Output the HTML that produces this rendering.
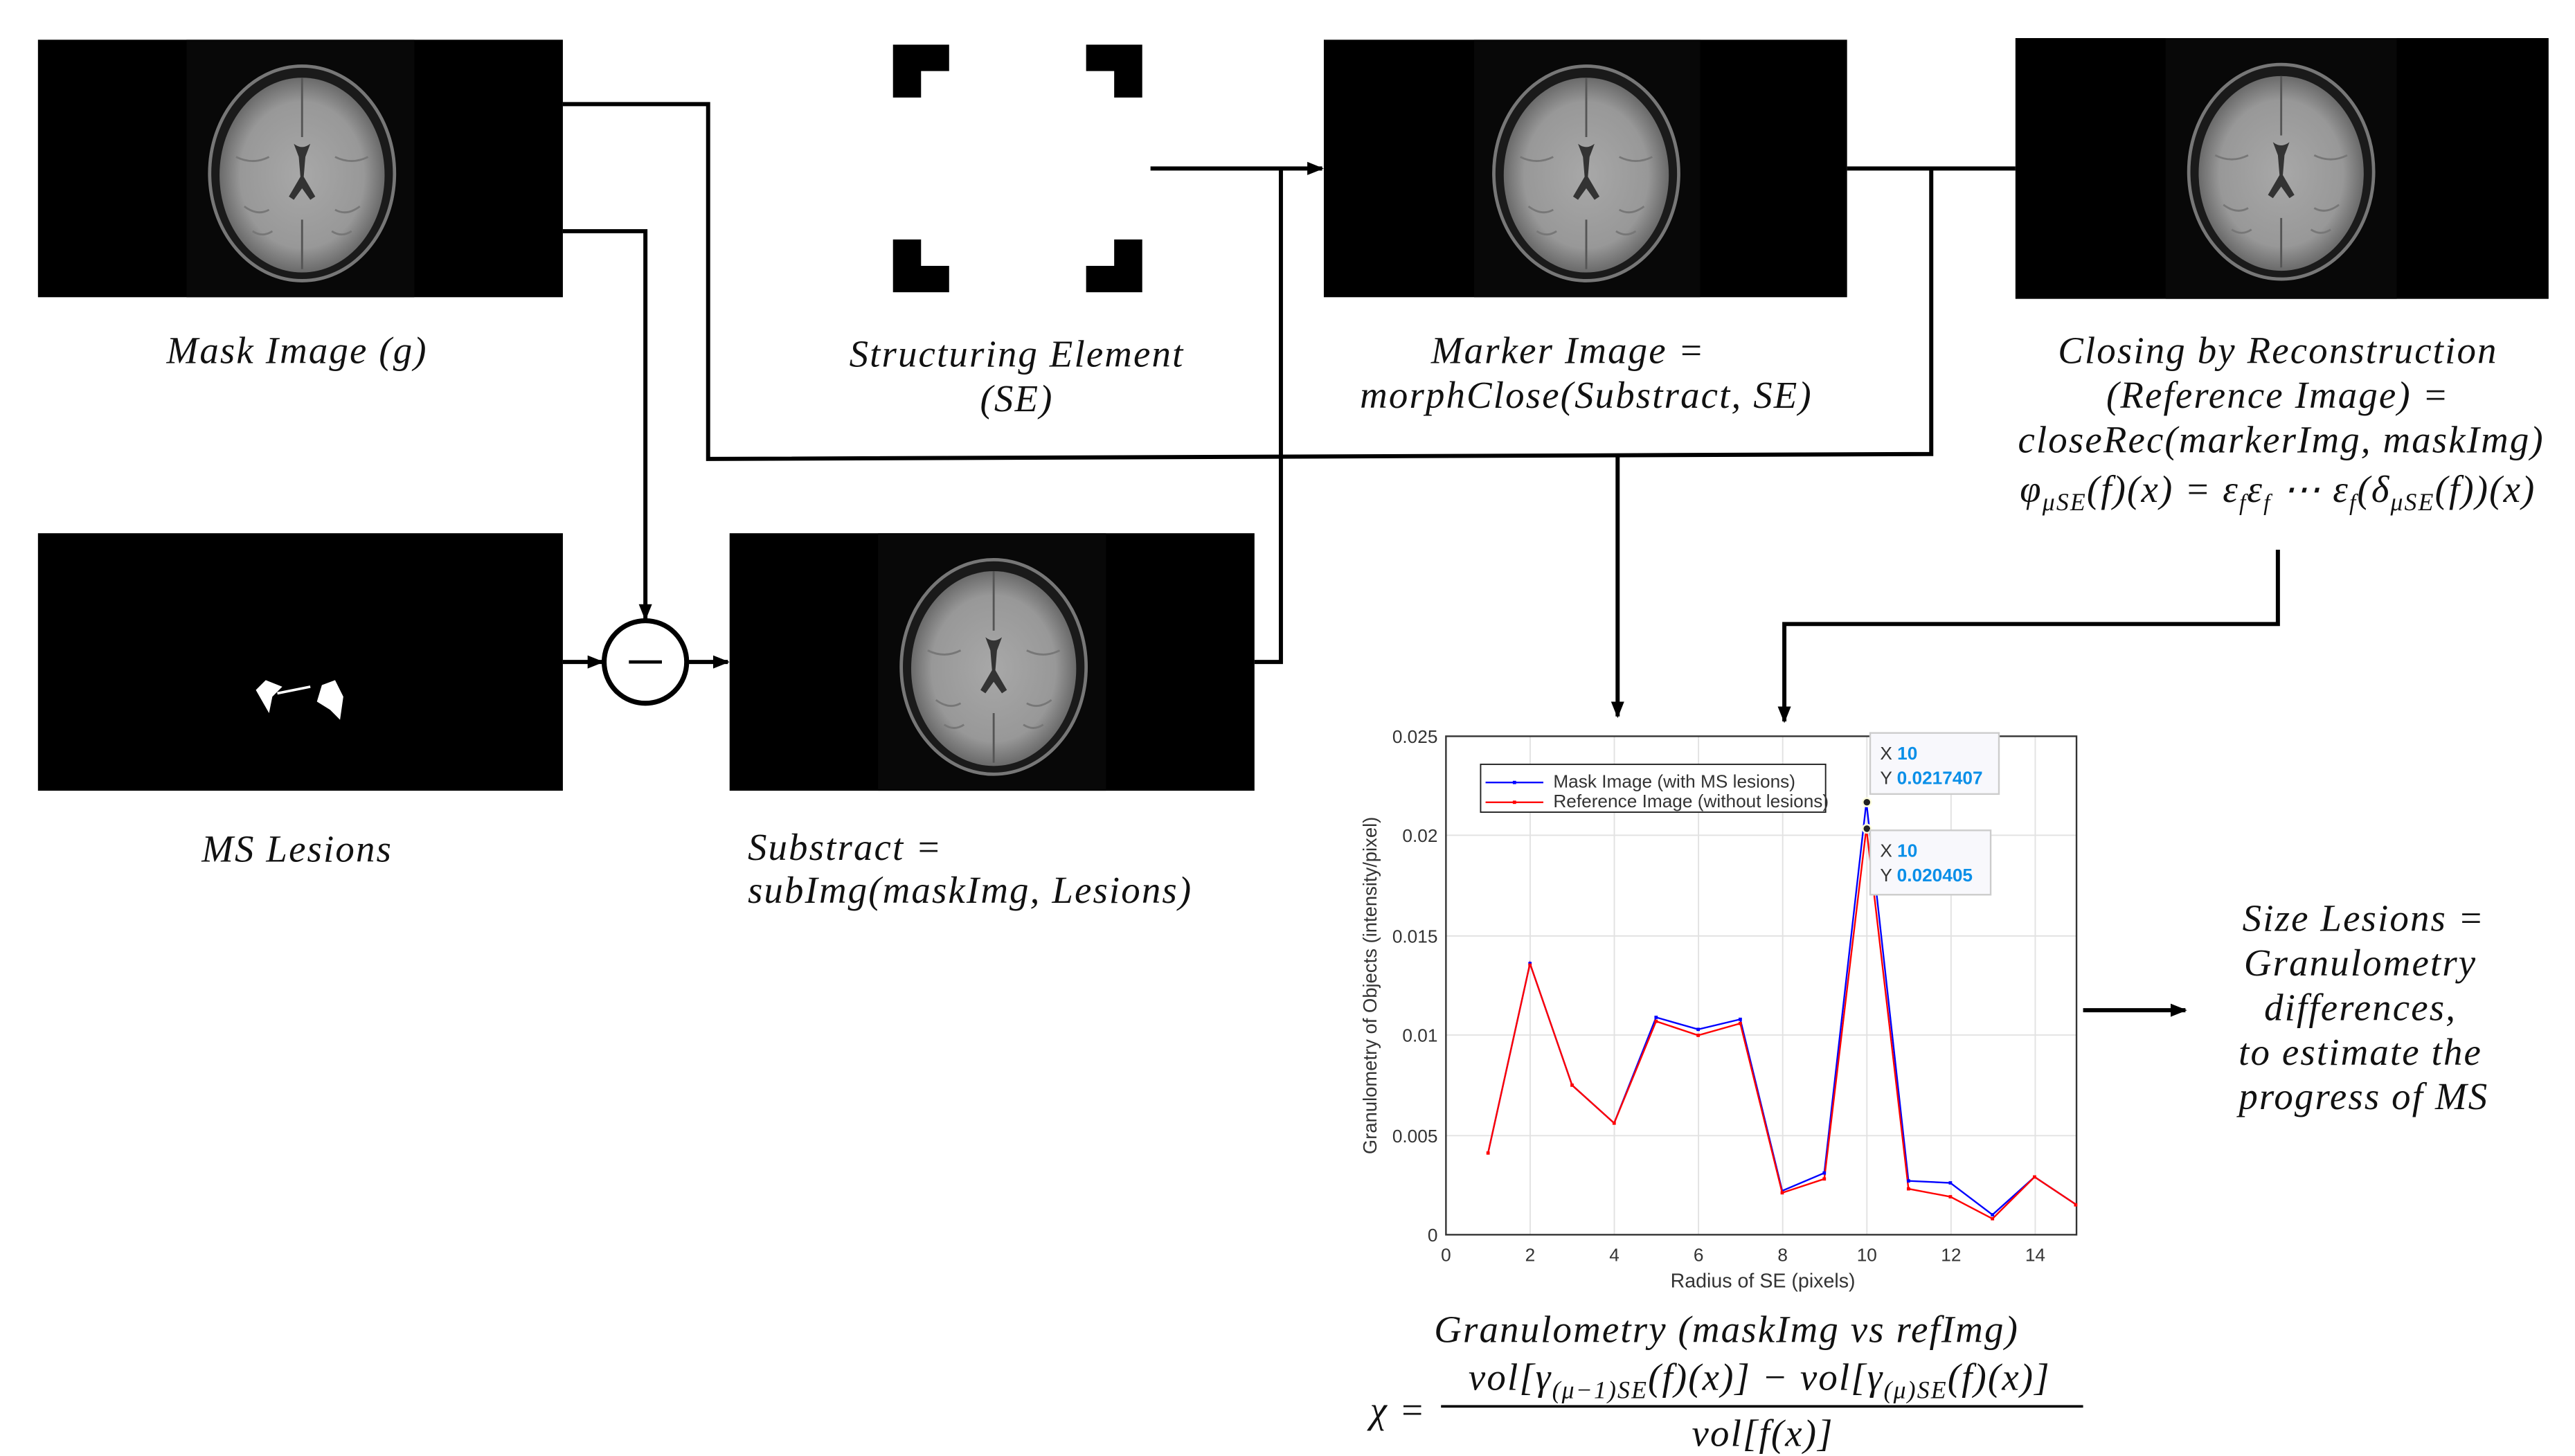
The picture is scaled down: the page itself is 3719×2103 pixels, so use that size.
<!DOCTYPE html>
<html><head><meta charset="utf-8"><style>
html,body{margin:0;padding:0;background:#fff;}
svg{display:block;}
.t{font-family:"Liberation Serif",serif;font-style:italic;font-size:23px;letter-spacing:0.9px;fill:#111;}
.a{font-family:"Liberation Sans",sans-serif;font-size:11px;fill:#333;}
</style></head><body>
<svg width="3719" height="2103" viewBox="0 0 1560 882" xmlns="http://www.w3.org/2000/svg">
<defs>
<marker id="ar" markerWidth="10" markerHeight="10" refX="9" refY="5" orient="auto" markerUnits="userSpaceOnUse">
<path d="M0,1 L10,5 L0,9 Z" fill="#000"/></marker>
<radialGradient id="bg" cx="50%" cy="50%" r="50%">
<stop offset="0" stop-color="#a8a8a8"/><stop offset="0.75" stop-color="#989898"/><stop offset="1" stop-color="#6a6a6a"/></radialGradient>
<g id="brain">
<ellipse cx="0" cy="0" rx="56" ry="65" fill="#1a1a1a" stroke="#777" stroke-width="2"/>
<ellipse cx="0" cy="1" rx="50" ry="59" fill="url(#bg)"/>
<path d="M-5,-18 q5,4 10,0 l-3,8 l-1,12 l7,12 l-3,2 l-5,-7 l-5,7 l-3,-2 l7,-12 l-1,-12 z" fill="#333"/>
<path d="M0,-58 L0,-22 M0,28 L0,58" stroke="#555" stroke-width="1.2"/>
<path d="M-40,-10 q10,5 20,0 M40,-10 q-10,5 -20,0 M-35,20 q8,6 15,2 M35,20 q-8,6 -15,2 M-30,35 q6,4 12,0 M30,35 q-6,4 -12,0" stroke="#777" stroke-width="1.2" fill="none"/>
</g>
</defs>
<rect width="1560" height="882" fill="#fff"/>

<rect x="23" y="24" width="318" height="156" fill="#000"/>
<rect x="113" y="24" width="138" height="156" fill="#080808"/>
<use href="#brain" x="183" y="105"/>
<rect x="802" y="24" width="317" height="156" fill="#000"/>
<rect x="893" y="24" width="137" height="156" fill="#080808"/>
<use href="#brain" x="961" y="105"/>
<rect x="1221" y="23" width="323" height="158" fill="#000"/>
<rect x="1312" y="23" width="140" height="158" fill="#080808"/>
<use href="#brain" x="1382" y="104"/>
<rect x="442" y="323" width="318" height="156" fill="#000"/>
<rect x="532" y="323" width="138" height="156" fill="#080808"/>
<use href="#brain" x="602" y="404"/>
<rect x="23" y="323" width="318" height="156" fill="#000"/>
<path d="M155,418 l6,-6 l10,4 l-6,6 l-2,10 z M195,415 l8,-3 l5,10 l-2,14 l-6,-6 l-8,-5 z" fill="#fff"/>
<path d="M168,420 l20,-4" stroke="#fff" stroke-width="1.5"/>

<path d="M541,27 h34 v16 h-17 v16 h-17 z" fill="#000"/>
<path d="M658,27 h34 v32 h-17 v-16 h-17 z" fill="#000"/>
<path d="M541,145 h17 v16 h17 v16 h-34 z" fill="#000"/>
<path d="M675,145 h17 v32 h-34 v-16 h17 z" fill="#000"/>

<g stroke="#000" stroke-width="2.5" fill="none">
<polyline points="341,63 429,63 429,278 1170,275 1170,102"/>
<line x1="1119" y1="102" x2="1221" y2="102"/>
<polyline points="341,140 391,140 391,375" marker-end="url(#ar)"/>
<line x1="341" y1="401" x2="365" y2="401" marker-end="url(#ar)"/>
<line x1="416" y1="401" x2="441" y2="401" marker-end="url(#ar)"/>
<polyline points="760,401 776,401 776,102"/>
<line x1="697" y1="102" x2="801" y2="102" marker-end="url(#ar)"/>
<polyline points="980,277 980,434" marker-end="url(#ar)"/>
<polyline points="1380,333 1380,378 1081,378 1081,437" marker-end="url(#ar)"/>
<line x1="1262" y1="612" x2="1324" y2="612" marker-end="url(#ar)"/>
<circle cx="391" cy="401" r="25" stroke-width="3"/>
<line x1="381" y1="401" x2="401" y2="401" stroke-width="2"/>
</g>

<g class="t" text-anchor="middle">
<text x="180" y="220">Mask Image (g)</text>
<text x="616" y="222">Structuring Element</text>
<text x="616" y="249">(SE)</text>
<text x="950" y="220">Marker Image =</text>
<text x="961" y="247">morphClose(Substract, SE)</text>
<text x="1380" y="220">Closing by Reconstruction</text>
<text x="1380" y="247">(Reference Image) =</text>
<text x="1382" y="274">closeRec(markerImg, maskImg)</text>
<text x="1380" y="304">φ<tspan font-size="15" dy="5">μSE</tspan><tspan dy="-5">(f)(x) = ε</tspan><tspan font-size="14" dy="5">f</tspan><tspan dy="-5">ε</tspan><tspan font-size="14" dy="5">f</tspan><tspan dy="-5"> ⋯ ε</tspan><tspan font-size="14" dy="5">f</tspan><tspan dy="-5">(δ</tspan><tspan font-size="15" dy="5">μSE</tspan><tspan dy="-5">(f))(x)</tspan></text>
<text x="180" y="522">MS Lesions</text>
<text x="1432" y="564">Size Lesions =</text>
<text x="1430" y="591">Granulometry</text>
<text x="1430" y="618">differences,</text>
<text x="1430" y="645">to estimate the</text>
<text x="1432" y="672">progress of MS</text>
<text x="1046" y="813">Granulometry (maskImg vs refImg)</text>
<text x="1066" y="842">vol[γ<tspan font-size="15" dy="5">(μ−1)SE</tspan><tspan dy="-5">(f)(x)] − vol[γ</tspan><tspan font-size="15" dy="5">(μ)SE</tspan><tspan dy="-5">(f)(x)]</tspan></text>
<text x="1068" y="876">vol[f(x)]</text>
</g>
<g class="t">
<text x="453" y="521">Substract =</text>
<text x="453" y="547">subImg(maskImg, Lesions)</text>
<text x="830" y="862">χ =</text>
</g>
<line x1="873" y1="852" x2="1262" y2="852" stroke="#000" stroke-width="1.5"/>

<g stroke="#e2e2e2" stroke-width="0.8">
<line x1="927" y1="446" x2="927" y2="748"/><line x1="978" y1="446" x2="978" y2="748"/>
<line x1="1029" y1="446" x2="1029" y2="748"/><line x1="1080" y1="446" x2="1080" y2="748"/>
<line x1="1131" y1="446" x2="1131" y2="748"/><line x1="1182" y1="446" x2="1182" y2="748"/>
<line x1="1233" y1="446" x2="1233" y2="748"/>
<line x1="876" y1="688" x2="1258" y2="688"/><line x1="876" y1="627" x2="1258" y2="627"/>
<line x1="876" y1="567" x2="1258" y2="567"/><line x1="876" y1="506" x2="1258" y2="506"/>
</g>
<rect x="876" y="446" width="382" height="302" fill="none" stroke="#333" stroke-width="1"/>
<polyline fill="none" stroke="#00f" stroke-width="1" points="901.5,698.5 926.9,583.7 952.4,657.4 977.9,680.4 1003.3,616.3 1028.8,623.6 1054.3,617.5 1079.7,721.4 1105.2,710.6 1130.7,485.9 1156.2,715.4 1181.6,716.6 1207.1,735.9 1232.6,713 1258,729.9"/>
<polyline fill="none" stroke="#f00" stroke-width="1" points="901.5,698.5 926.9,583.7 952.4,657.4 977.9,680.4 1003.3,618.7 1028.8,627.2 1054.3,620 1079.7,722.6 1105.2,714.2 1130.7,501.6 1156.2,720.2 1181.6,725 1207.1,738.3 1232.6,713 1258,729.9"/>
<g fill="#00f"><rect x="925.9" y="582.7" width="2" height="2"/><rect x="1002.3" y="615.3" width="2" height="2"/><rect x="1027.8" y="622.6" width="2" height="2"/><rect x="1053.3" y="616.5" width="2" height="2"/><rect x="1104.2" y="709.6" width="2" height="2"/><rect x="1155.2" y="714.4" width="2" height="2"/><rect x="1180.6" y="715.6" width="2" height="2"/><rect x="1206.1" y="734.9" width="2" height="2"/></g>
<g fill="#f00"><rect x="900.5" y="697.5" width="2" height="2"/><rect x="925.9" y="583.7" width="2" height="2"/><rect x="951.4" y="656.4" width="2" height="2"/><rect x="976.9" y="679.4" width="2" height="2"/><rect x="1002.3" y="617.7" width="2" height="2"/><rect x="1027.8" y="626.2" width="2" height="2"/><rect x="1053.3" y="619" width="2" height="2"/><rect x="1078.7" y="721.6" width="2" height="2"/><rect x="1104.2" y="713.2" width="2" height="2"/><rect x="1155.2" y="719.2" width="2" height="2"/><rect x="1180.6" y="724" width="2" height="2"/><rect x="1206.1" y="737.3" width="2" height="2"/><rect x="1231.6" y="712" width="2" height="2"/><rect x="1256.5" y="728.9" width="2" height="2"/></g>
<circle cx="1131" cy="486" r="2.5" fill="#222" stroke="#ffd" stroke-width="1"/>
<circle cx="1131" cy="502" r="2.5" fill="#222" stroke="#ffd" stroke-width="1"/>
<g class="a">
<text x="871" y="450" text-anchor="end">0.025</text><text x="871" y="510" text-anchor="end">0.02</text>
<text x="871" y="571" text-anchor="end">0.015</text><text x="871" y="631" text-anchor="end">0.01</text>
<text x="871" y="692" text-anchor="end">0.005</text><text x="871" y="752" text-anchor="end">0</text>
<g text-anchor="middle"><text x="876" y="764">0</text><text x="927" y="764">2</text><text x="978" y="764">4</text><text x="1029" y="764">6</text><text x="1080" y="764">8</text><text x="1131" y="764">10</text><text x="1182" y="764">12</text><text x="1233" y="764">14</text>
<text x="1068" y="780" font-size="12">Radius of SE (pixels)</text></g>
<text transform="translate(834,597) rotate(-90)" text-anchor="middle" font-size="11.5">Granulometry of Objects (intensity/pixel)</text>
</g>
<rect x="897" y="463" width="209" height="29" fill="#fff" stroke="#222" stroke-width="0.8"/>
<line x1="900" y1="474" x2="935" y2="474" stroke="#00f"/><line x1="900" y1="486" x2="935" y2="486" stroke="#f00"/>
<rect x="916.5" y="473" width="2" height="2" fill="#00f"/><rect x="916.5" y="485" width="2" height="2" fill="#f00"/>
<text x="941" y="477" class="a" font-size="10">Mask Image (with MS lesions)</text>
<text x="941" y="489" class="a" font-size="10">Reference Image (without lesions)</text>
<rect x="1133" y="444" width="78" height="37" fill="#f8f8fc" stroke="#ccc"/>
<rect x="1133" y="503" width="73" height="39" fill="#f8f8fc" stroke="#ccc"/>
<g class="a"><text x="1139" y="460">X <tspan fill="#0a8fe8" font-weight="bold">10</tspan></text>
<text x="1139" y="475">Y <tspan fill="#0a8fe8" font-weight="bold">0.0217407</tspan></text>
<text x="1139" y="519">X <tspan fill="#0a8fe8" font-weight="bold">10</tspan></text>
<text x="1139" y="534">Y <tspan fill="#0a8fe8" font-weight="bold">0.020405</tspan></text></g>
</svg>
</body></html>
